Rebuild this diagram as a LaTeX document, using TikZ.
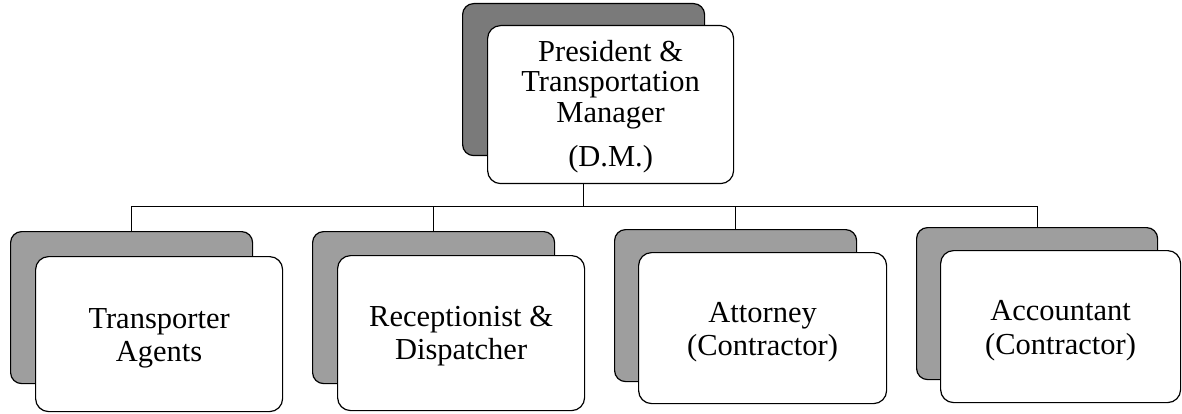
\documentclass[tikz,border=0pt]{standalone}
\usepackage{fontspec}
\setmainfont{Liberation Serif}
\begin{document}
\begin{tikzpicture}[x=1pt,y=-1pt,
  backbox/.style={draw=black, line width=1.2pt, rounded corners=11pt, fill=black!38, anchor=north west, minimum width=242pt, minimum height=152pt, inner sep=0pt},
  topback/.style={backbox, fill=black!52},
  frontbox/.style={draw=black, line width=1.2pt, rounded corners=13pt, fill=white, anchor=north west, minimum width=247pt, minimum height=155pt, inner sep=0pt},
  lbl/.style={align=center, font=\fontsize{30.5}{33.5}\selectfont},
  conn/.style={draw=black, line width=1pt}]
\useasboundingbox (0,0) rectangle (1182,414);
% back boxes
\node[topback, minimum height=152pt] (tb) at (462,3) {};
\node[backbox] (b1) at (10,231) {};
\node[backbox] (b2) at (312,231) {};
\node[backbox] (b3) at (614,229) {};
\node[backbox, minimum width=241pt] (b4) at (916,227) {};
% connectors
\coordinate (bus) at (0,206);
\draw[conn] (tb.south) -- (tb.south |- bus);
\draw[conn] (b1.north) -- (b1.north |- bus) -- (b4.north |- bus) -- (b4.north);
\draw[conn] (b2.north |- bus) -- (b2.north);
\draw[conn] (b3.north |- bus) -- (b3.north);
% front boxes
\node[frontbox, minimum height=158pt, minimum width=246pt] (t) at (487,25) {};
\node[frontbox] (f1) at (35,256) {};
\node[frontbox] (f2) at (337,255) {};
\node[frontbox, minimum width=248pt, minimum height=151pt] (f3) at (638,252) {};
\node[frontbox, minimum width=240pt, minimum height=152pt] (f4) at (940,250) {};
% labels
\node[lbl, font=\fontsize{30.5}{30.5}\selectfont] (tl) at ([yshift=-2pt]t.center) {President \&\\ Transportation\\ Manager\\[14pt] (D.M.)};
\node[lbl] (l1) at ([yshift=-4pt]f1.center) {Transporter\\ Agents};
\node[lbl] (l2) at ([yshift=-3pt]f2.center) {Receptionist \&\\ Dispatcher};
\node[lbl] (l3) at ([yshift=-4pt]f3.center) {Attorney\\ (Contractor)};
\node[lbl] (l4) at ([yshift=-4pt]f4.center) {Accountant\\ (Contractor)};
\end{tikzpicture}
\end{document}
